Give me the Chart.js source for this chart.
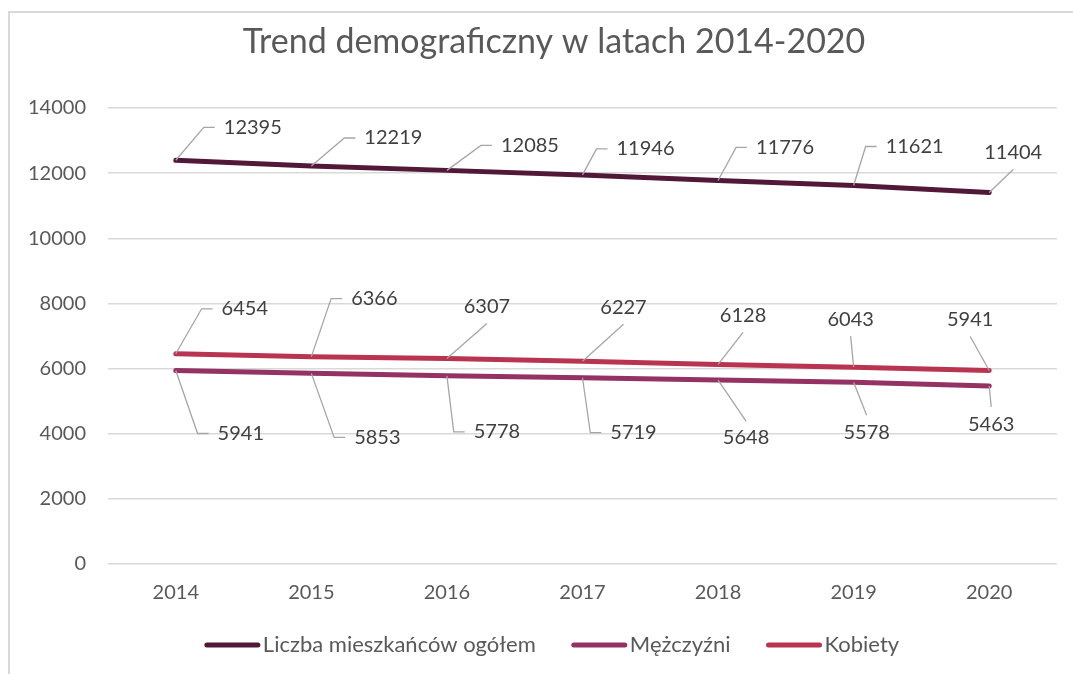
<!DOCTYPE html>
<html>
<head>
<meta charset="utf-8">
<script src="https://cdn.jsdelivr.net/npm/chart.js@4.4.1/dist/chart.umd.min.js"></script>
<style>
  html, body { margin: 0; padding: 0; background: #fff; }
  #wrap { position: relative; width: 1073px; height: 674px; overflow: hidden; }
  #frame { position: absolute; left: 8px; top: 11px; width: 1200px; height: 800px;
           border-left: 2px solid #d9d9d9; border-top: 2px solid #d9d9d9; }
  #chart { position: absolute; left: 0; top: 0; }
</style>
</head>
<body>
<div id="wrap">
  <div id="frame"></div>
  <canvas id="chart" width="1108" height="674"></canvas>
</div>
<script>
const years = ['2014', '2015', '2016', '2017', '2018', '2019', '2020'];
const total = [12395, 12219, 12085, 11946, 11776, 11621, 11404];
const men = [5941, 5853, 5778, 5719, 5648, 5578, 5463];
const women = [6454, 6366, 6307, 6227, 6128, 6043, 5941];

const seriesNames = ['Liczba mieszkańców ogółem', 'Mężczyźni', 'Kobiety'];
const seriesColors = ['#521838', '#943264', '#b83450'];

// where each data label sits, relative to its point (px)
const labelOffsets = [
  [[77, -33], [82, -28], [83, -25], [63, -26], [67, -33], [61, -39], [24, -40]],
  [[65, 63], [66, 64], [50, 56], [51, 55], [28, 58], [13, 50], [2, 38]],
  [[69, -45], [63, -58], [40, -52], [41, -54], [25, -49], [-3, -48], [-19, -51]]
];

const fontFamily = '"Gill Sans", "Gill Sans MT", Lato, "Open Sans", sans-serif';

const dataLabels = {
  id: 'dataLabels',
  afterDatasetsDraw(chart) {
    const ctx = chart.ctx;
    ctx.save();
    ctx.font = '20px ' + fontFamily;
    ctx.textAlign = 'center';
    ctx.textBaseline = 'middle';
    chart.data.datasets.forEach((ds, i) => {
      const meta = chart.getDatasetMeta(i);
      meta.data.forEach((pt, j) => {
        const text = String(ds.data[j]);
        const off = labelOffsets[i][j];
        const cx = pt.x + off[0];
        const cy = pt.y + off[1];
        const w = ctx.measureText(text).width;
        const left = cx - w / 2;
        const above = off[1] < 0;
        ctx.strokeStyle = '#a6a6a6';
        ctx.lineWidth = 1.3;
        ctx.beginPath();
        ctx.moveTo(pt.x, pt.y);
        if (left - pt.x > 22) {
          ctx.lineTo(left - 20, cy);
          ctx.lineTo(left - 9, cy);
        } else {
          ctx.lineTo(cx, above ? cy + 17 : cy - 17);
        }
        ctx.stroke();
        ctx.fillStyle = '#404040';
        ctx.fillText(text, cx, cy);
      });
    });
    ctx.restore();
  }
};

// legend drawn by hand so the line/text spacing matches the original
const lineLegend = {
  id: 'lineLegend',
  afterDraw(chart) {
    const ctx = chart.ctx;
    const lineLen = 55, gapText = 3, gapItem = 36, y = 645;
    ctx.save();
    ctx.font = '22px ' + fontFamily;
    ctx.textBaseline = 'middle';
    const items = chart.data.datasets.map(ds => ({
      text: ds.label, color: ds.borderColor, w: ctx.measureText(ds.label).width
    }));
    let totalW = 0;
    items.forEach((it, i) => { totalW += lineLen + gapText + it.w + (i ? gapItem : 0); });
    let x = 552 - totalW / 2;
    items.forEach(it => {
      ctx.strokeStyle = it.color;
      ctx.lineWidth = 5;
      ctx.lineCap = 'round';
      ctx.beginPath();
      ctx.moveTo(x + 2, y);
      ctx.lineTo(x + lineLen - 2, y);
      ctx.stroke();
      ctx.fillStyle = '#595959';
      ctx.fillText(it.text, x + lineLen + gapText, y);
      x += lineLen + gapText + it.w + gapItem;
    });
    ctx.restore();
  }
};

function makeSet(name, values, color) {
  return {
    label: name,
    data: values,
    borderColor: color,
    backgroundColor: color,
    borderWidth: 5,
    borderCapStyle: 'round',
    borderJoinStyle: 'round',
    pointRadius: 0,
    tension: 0,
    fill: false
  };
}

new Chart(document.getElementById('chart'), {
  type: 'line',
  data: {
    labels: years,
    datasets: [
      makeSet(seriesNames[0], total, seriesColors[0]),
      makeSet(seriesNames[1], men, seriesColors[1]),
      makeSet(seriesNames[2], women, seriesColors[2])
    ]
  },
  options: {
    responsive: false,
    animation: false,
    layout: { padding: { left: 0, right: 0, top: 0, bottom: 52 } },
    plugins: {
      title: {
        display: true,
        text: 'Trend demograficzny w latach 2014-2020',
        color: '#595959',
        font: { family: fontFamily, size: 34, weight: 'normal' },
        padding: { top: 21.6, bottom: 45.6 }
      },
      legend: { display: false },
      tooltip: { enabled: false }
    },
    scales: {
      x: {
        offset: true,
        grid: { display: false, drawTicks: false },
        border: { display: false },
        ticks: { color: '#595959', font: { family: fontFamily, size: 20 }, padding: 17 }
      },
      y: {
        min: 0,
        max: 14000,
        afterFit(scale) { scale.width = 108; },
        grid: { color: '#d9d9d9', lineWidth: 1.5, drawTicks: false },
        border: { display: false },
        ticks: {
          stepSize: 2000,
          color: '#595959',
          font: { family: fontFamily, size: 20 },
          padding: 22,
          callback: (v) => String(v)
        }
      },
      // empty right-hand axis, only there to keep the plot clear of the right edge
      spacer: {
        type: 'linear',
        position: 'right',
        min: 0,
        max: 1,
        afterFit(scale) { scale.width = 51; },
        grid: { display: false, drawTicks: false },
        border: { display: false },
        ticks: { display: false }
      }
    }
  },
  plugins: [dataLabels, lineLegend]
});
</script>
</body>
</html>
